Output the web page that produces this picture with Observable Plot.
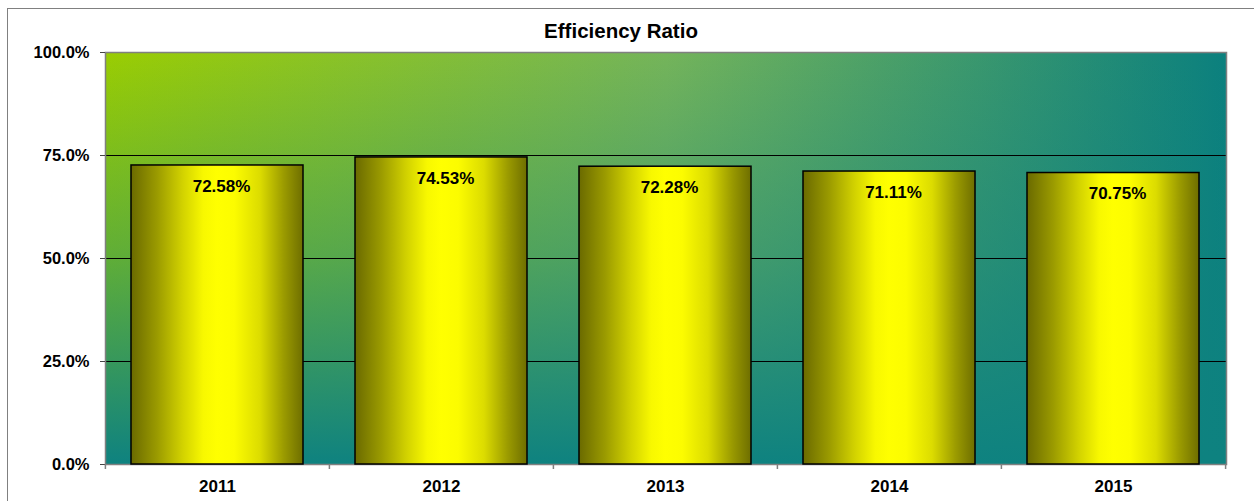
<!DOCTYPE html>
<html><head><meta charset="utf-8">
<script src="https://cdn.jsdelivr.net/npm/d3@7"></script>
<script src="https://cdn.jsdelivr.net/npm/@observablehq/plot@0.6"></script>
<style>
html,body{margin:0;padding:0;background:#fff;overflow:hidden;}
#wrap{position:relative;width:1254px;height:501px;overflow:hidden;}
#border{position:absolute;left:7px;top:8px;width:1300px;height:600px;border:1px solid #808080;box-sizing:border-box;}
#chart{position:absolute;left:0;top:0;}
</style></head><body>
<div id="wrap"><div id="border"></div><div id="chart"></div></div>
<script>
const title = "Efficiency Ratio";
const years = ["2011", "2012", "2013", "2014", "2015"];
const ratios = [72.58, 74.53, 72.28, 71.11, 70.75];
const yTicks = [0, 25, 50, 75, 100];
const gridValues = [25, 50, 75];

const data = years.map((y, i) => ({year: y, value: ratios[i]}));

const W = 1254, H = 501, ML = 105, MR = 28, MT = 52, MB = 37;
const step = (W - ML - MR) / years.length;
const font = "'Liberation Sans', Arial, Helvetica, sans-serif";

const defs = () => {
  const d = d3.create("svg:defs");
  const h = d.append("linearGradient").attr("id", "hGrad")
    .attr("x1", 0).attr("y1", 0).attr("x2", 1).attr("y2", 0);
  [[0, "#9acd02"], [0.5, "#74b45a"], [1, "#0b807e"]]
    .forEach(([o, c]) => h.append("stop").attr("offset", o).attr("stop-color", c));
  const v = d.append("linearGradient").attr("id", "vGrad")
    .attr("x1", 0).attr("y1", 0).attr("x2", 0).attr("y2", 1);
  [[0, 0], [0.5, 0.42], [1, 1]]
    .forEach(([o, a]) => v.append("stop").attr("offset", o).attr("stop-color", "#0e8280").attr("stop-opacity", a));
  const bar = d.append("linearGradient").attr("id", "barGrad")
    .attr("x1", 0).attr("y1", 0).attr("x2", 1).attr("y2", 0);
  [[0, "#6a6a00"], [0.15, "#9a9a00"], [0.3, "#d2d200"], [0.42, "#f8f800"], [0.5, "#ffff00"],
   [0.6, "#fcfc00"], [0.75, "#dcdc00"], [0.89, "#9a9a00"], [1, "#6e6e00"]]
    .forEach(([o, c]) => bar.append("stop").attr("offset", o).attr("stop-color", c));
  return d.node();
};

const chart = Plot.plot({
  width: W, height: H,
  marginLeft: ML, marginRight: MR, marginTop: MT, marginBottom: MB,
  style: {fontFamily: font, fontSize: "17px", background: "transparent", overflow: "visible", color: "#000"},
  x: {domain: years, paddingInner: 0.23, paddingOuter: 0.115, label: null},
  y: {domain: [0, 100], label: null},
  marks: [
    defs,
    Plot.frame({fill: "url(#hGrad)", stroke: null}),
    Plot.frame({fill: "url(#vGrad)", stroke: null}),
    Plot.ruleY(gridValues, {stroke: "#000", strokeWidth: 1}),
    Plot.frame({stroke: "#808080", strokeWidth: 1.5, fill: null}),
    Plot.barY(data, {x: "year", y: "value", fill: "url(#barGrad)", stroke: "#000", strokeWidth: 1.5}),
    Plot.text(data, {x: "year", y: "value", text: d => d.value.toFixed(2) + "%", dx: 4, dy: 21,
      lineAnchor: "middle", fontWeight: "bold", fontSize: 17, fill: "#000"}),
    Plot.axisY({ticks: yTicks, tickFormat: d => d.toFixed(1) + "%", tickSize: 5, tickPadding: 11,
      fontWeight: "bold", fontSize: 16.5, stroke: "#444", label: null}),
    Plot.axisX({tickSize: 0, tickPadding: 15, fontWeight: "bold", fontSize: 17, label: null}),
    Plot.ruleX(years, {x: d => d, dx: -step / 2, y1: () => 0, insetBottom: -5, stroke: "#808080", strokeWidth: 1.5}),
    Plot.ruleX(years.slice(-1), {x: d => d, dx: step / 2, y1: () => 0, insetBottom: -5, stroke: "#808080", strokeWidth: 1.5}),
    Plot.text([title], {frameAnchor: "top", dx: -45, dy: -21, lineAnchor: "middle",
      fontWeight: "bold", fontSize: 20.5, fill: "#000"})
  ]
});
document.getElementById("chart").appendChild(chart);
</script>
</body></html>
